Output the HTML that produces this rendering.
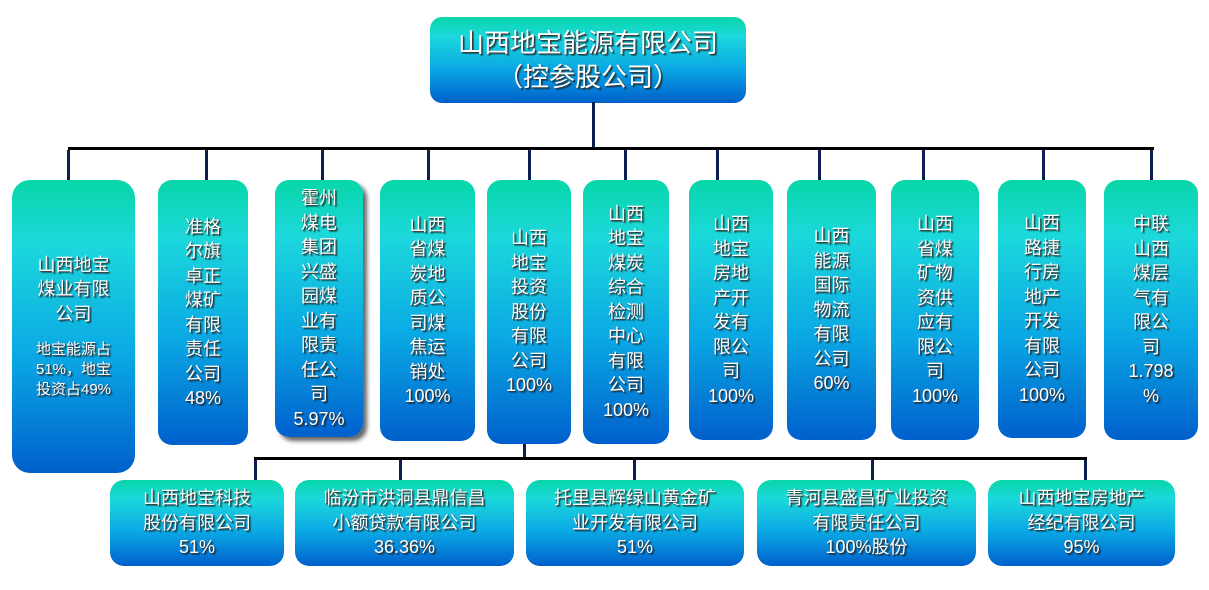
<!DOCTYPE html>
<html><head><meta charset="utf-8"><style>
body{margin:0;width:1209px;height:590px;background:#fff;position:relative;overflow:hidden;font-family:"Liberation Sans","Noto Sans CJK SC",sans-serif;}
.b{position:absolute;border-radius:14px;background:linear-gradient(#07d6a8 0%,#1cd8dc 22%,#0aa8e4 60%,#0060cc 100%);color:#fff;text-shadow:1px 1px 1px #333,2px 2px 1px rgba(0,0,0,.4);display:flex;align-items:center;justify-content:center;text-align:center;box-sizing:border-box;font-size:18px;line-height:24.5px;}
.l{position:absolute;background:#0a1f50;}
.h{position:absolute;background:#000;}
small{font-size:15px;line-height:20px;display:block;margin-top:14px;}
</style></head><body>
<div class="b" style="left:430px;top:17px;width:316px;height:86px;font-size:26px;line-height:34px;border-radius:12px;">山西地宝能源有限公司<br>（控参股公司）</div>
<div class="l" style="left:592px;top:102px;width:3px;height:46px"></div>
<div class="h" style="left:68px;top:147px;width:1086px;height:3px"></div>
<div class="l" style="left:67px;top:150px;width:3px;height:30px"></div>
<div class="l" style="left:205px;top:150px;width:3px;height:30px"></div>
<div class="l" style="left:321px;top:150px;width:3px;height:30px"></div>
<div class="l" style="left:427px;top:150px;width:3px;height:30px"></div>
<div class="l" style="left:528px;top:150px;width:3px;height:30px"></div>
<div class="l" style="left:624px;top:150px;width:3px;height:30px"></div>
<div class="l" style="left:716px;top:150px;width:3px;height:30px"></div>
<div class="l" style="left:818px;top:150px;width:3px;height:30px"></div>
<div class="l" style="left:922px;top:150px;width:3px;height:30px"></div>
<div class="l" style="left:1042px;top:150px;width:3px;height:30px"></div>
<div class="l" style="left:1150px;top:150px;width:3px;height:30px"></div>

<div class="b" style="left:12px;top:180px;width:123px;height:293px;border-radius:18px;"><div>山西地宝<br>煤业有限<br>公司<small>地宝能源占<br>51%，地宝<br>投资占49%</small></div></div>
<div class="b" style="left:158px;top:180px;width:90px;height:265px;">准格<br>尔旗<br>卓正<br>煤矿<br>有限<br>责任<br>公司<br>48%</div>
<div class="b" style="left:275px;top:180px;width:88px;height:257px;box-shadow:4px 4px 4px rgba(0,0,0,.6);">霍州<br>煤电<br>集团<br>兴盛<br>园煤<br>业有<br>限责<br>任公<br>司<br>5.97%</div>
<div class="b" style="left:380px;top:180px;width:95px;height:261px;">山西<br>省煤<br>炭地<br>质公<br>司煤<br>焦运<br>销处<br>100%</div>
<div class="b" style="left:487px;top:180px;width:84px;height:264px;">山西<br>地宝<br>投资<br>股份<br>有限<br>公司<br>100%</div>
<div class="b" style="left:583px;top:180px;width:86px;height:264px;">山西<br>地宝<br>煤炭<br>综合<br>检测<br>中心<br>有限<br>公司<br>100%</div>
<div class="b" style="left:689px;top:180px;width:84px;height:260px;">山西<br>地宝<br>房地<br>产开<br>发有<br>限公<br>司<br>100%</div>
<div class="b" style="left:787px;top:180px;width:89px;height:260px;">山西<br>能源<br>国际<br>物流<br>有限<br>公司<br>60%</div>
<div class="b" style="left:891px;top:180px;width:88px;height:260px;">山西<br>省煤<br>矿物<br>资供<br>应有<br>限公<br>司<br>100%</div>
<div class="b" style="left:998px;top:180px;width:88px;height:258px;">山西<br>路捷<br>行房<br>地产<br>开发<br>有限<br>公司<br>100%</div>
<div class="b" style="left:1104px;top:180px;width:94px;height:260px;">中联<br>山西<br>煤层<br>气有<br>限公<br>司<br>1.798<br>%</div>

<div class="l" style="left:523px;top:444px;width:3px;height:14px"></div>
<div class="h" style="left:254px;top:457px;width:833px;height:3px"></div>
<div class="l" style="left:254px;top:460px;width:3px;height:20px"></div>
<div class="l" style="left:399px;top:460px;width:3px;height:20px"></div>
<div class="l" style="left:633px;top:460px;width:3px;height:20px"></div>
<div class="l" style="left:871px;top:460px;width:3px;height:20px"></div>
<div class="l" style="left:1084px;top:460px;width:3px;height:20px"></div>

<div class="b" style="left:110px;top:480px;width:174px;height:86px;">山西地宝科技<br>股份有限公司<br>51%</div>
<div class="b" style="left:295px;top:480px;width:219px;height:86px;">临汾市洪洞县鼎信昌<br>小额贷款有限公司<br>36.36%</div>
<div class="b" style="left:526px;top:480px;width:218px;height:86px;">托里县辉绿山黄金矿<br>业开发有限公司<br>51%</div>
<div class="b" style="left:757px;top:480px;width:219px;height:86px;">青河县盛昌矿业投资<br>有限责任公司<br>100%股份</div>
<div class="b" style="left:988px;top:480px;width:187px;height:86px;">山西地宝房地产<br>经纪有限公司<br>95%</div>
</body></html>
